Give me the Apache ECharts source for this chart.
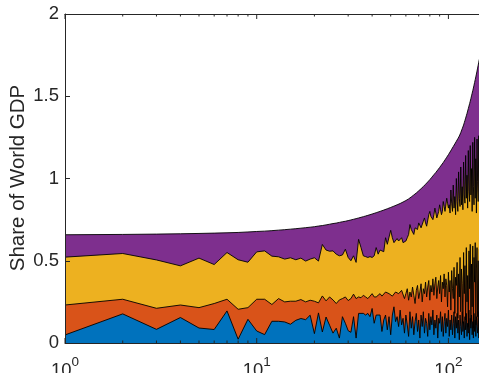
<!DOCTYPE html>
<html>
<head>
<meta charset="utf-8">
<script src="https://cdn.jsdelivr.net/npm/echarts@6/dist/echarts.min.js"></script>
<style>
  html, body { margin: 0; padding: 0; background: #fff; }
  #chart { width: 479px; height: 373px; }
</style>
</head>
<body>
<div id="chart"></div>
<script>
// x positions (rank), one per point
const rank = [
  1, 2, 3, 4, 5, 6, 7, 8, 9, 10,
  11, 12, 13, 14, 15, 16, 17, 18, 19, 20,
  21, 22, 23, 24, 25, 26, 27, 28, 29, 30,
  31, 32, 33, 34, 35, 36, 37, 38, 39, 40,
  41, 42, 43, 44, 45, 46, 47, 48, 49, 50,
  51, 52, 53, 54, 55, 56, 57, 58, 59, 60,
  61, 62, 63, 64, 65, 66, 67, 68, 69, 70,
  71, 72, 73, 74, 75, 76, 77, 78, 79, 80,
  81, 82, 83, 84, 85, 86, 87, 88, 89, 90,
  91, 92, 93, 94, 95, 96, 97, 98, 99, 100,
  101, 102, 103, 104, 105, 106, 107, 108, 109, 110,
  111, 112, 113, 114, 115, 116, 117, 118, 119, 120,
  121, 122, 123, 124, 125, 126, 127, 128, 129, 130,
  131, 132, 133, 134, 135, 136, 137, 138, 139, 140,
  141, 142, 143, 144, 145
];

// upper edge of each stacked band (cumulative share)
const blueTop = [
  0.049, 0.177, 0.083, 0.155, 0.091, 0.082, 0.195, 0.023, 0.144, 0.073,
  0.051, 0.132, 0.132, 0.128, 0.114, 0.138, 0.149, 0.142, 0.169, 0.057,
  0.183, 0.067, 0.158, 0.108, 0.060, 0.090, 0.030, 0.160, 0.120, 0.075,
  0.065, 0.160, 0.030, 0.180, 0.180, 0.180, 0.170, 0.180, 0.160, 0.210,
  0.120, 0.170, 0.180, 0.170, 0.070, 0.140, 0.170, 0.080, 0.160, 0.050,
  0.170, 0.220, 0.130, 0.160, 0.100, 0.200, 0.110, 0.150, 0.060, 0.170,
  0.11, 0.04, 0.19, 0.09, 0.16, 0.05, 0.13, 0.18, 0.07, 0.14,
  0.03, 0.17, 0.10, 0.19, 0.06, 0.15, 0.12, 0.04, 0.18, 0.08,
  0.16, 0.11, 0.20, 0.05, 0.14, 0.09, 0.17, 0.03, 0.15, 0.12,
  0.19, 0.07, 0.16, 0.04, 0.13, 0.18, 0.06, 0.15, 0.10, 0.20,
  0.04, 0.14, 0.08, 0.17, 0.05, 0.12, 0.19, 0.03, 0.16, 0.09,
  0.18, 0.06, 0.14, 0.02, 0.17, 0.10, 0.05, 0.19, 0.07, 0.13,
  0.03, 0.16, 0.08, 0.18, 0.04, 0.12, 0.06, 0.20, 0.02, 0.15,
  0.09, 0.17, 0.05, 0.13, 0.03, 0.18, 0.07, 0.14, 0.04, 0.16,
  0.10, 0.06, 0.19, 0.03, 0.12
];
const orangeTop = [
  0.231, 0.266, 0.211, 0.231, 0.215, 0.240, 0.266, 0.205, 0.215, 0.266,
  0.266, 0.234, 0.270, 0.250, 0.254, 0.254, 0.264, 0.250, 0.260, 0.254,
  0.244, 0.286, 0.256, 0.280, 0.262, 0.240, 0.262, 0.270, 0.280, 0.258,
  0.270, 0.297, 0.270, 0.280, 0.275, 0.290, 0.280, 0.270, 0.285, 0.300,
  0.280, 0.280, 0.290, 0.300, 0.285, 0.297, 0.310, 0.311, 0.300, 0.300,
  0.285, 0.290, 0.310, 0.311, 0.300, 0.301, 0.320, 0.31, 0.27, 0.30,
  0.33, 0.26, 0.31, 0.28, 0.34, 0.29, 0.24, 0.32, 0.35, 0.27,
  0.31, 0.36, 0.25, 0.33, 0.30, 0.37, 0.28, 0.34, 0.38, 0.26,
  0.35, 0.31, 0.39, 0.29, 0.36, 0.40, 0.27, 0.34, 0.38, 0.30,
  0.41, 0.25, 0.37, 0.33, 0.42, 0.28, 0.39, 0.35, 0.22, 0.43,
  0.31, 0.38, 0.20, 0.44, 0.33, 0.27, 0.46, 0.18, 0.40, 0.35,
  0.49, 0.15, 0.42, 0.28, 0.52, 0.19, 0.45, 0.36, 0.12, 0.55,
  0.30, 0.47, 0.14, 0.58, 0.25, 0.41, 0.10, 0.56, 0.33, 0.60,
  0.13, 0.48, 0.22, 0.59, 0.09, 0.52, 0.37, 0.61, 0.11, 0.45,
  0.58, 0.16, 0.50, 0.08, 0.57
];
const yellowTop = [
  0.522, 0.544, 0.505, 0.469, 0.516, 0.477, 0.550, 0.506, 0.491, 0.554,
  0.560, 0.528, 0.524, 0.510, 0.518, 0.506, 0.516, 0.498, 0.510, 0.518,
  0.498, 0.599, 0.565, 0.558, 0.560, 0.540, 0.530, 0.535, 0.570, 0.520,
  0.500, 0.530, 0.490, 0.630, 0.580, 0.530, 0.525, 0.520, 0.525, 0.520,
  0.530, 0.580, 0.540, 0.565, 0.570, 0.555, 0.640, 0.600, 0.595, 0.685,
  0.640, 0.610, 0.600, 0.635, 0.620, 0.625, 0.640, 0.61, 0.60, 0.62,
  0.64, 0.66, 0.72, 0.69, 0.68, 0.66, 0.70, 0.71, 0.69, 0.73,
  0.72, 0.70, 0.71, 0.74, 0.76, 0.73, 0.71, 0.72, 0.78, 0.80,
  0.77, 0.76, 0.75, 0.78, 0.82, 0.79, 0.76, 0.75, 0.80, 0.84,
  0.81, 0.78, 0.80, 0.86, 0.83, 0.80, 0.79, 0.88, 0.85, 0.82,
  0.84, 0.79, 0.93, 0.85, 0.80, 0.96, 0.82, 0.89, 0.78, 1.00,
  0.86, 0.80, 1.04, 0.88, 0.83, 1.07, 0.84, 0.95, 0.81, 1.10,
  0.90, 0.85, 1.14, 0.88, 1.02, 0.82, 1.17, 0.92, 0.86, 1.20,
  0.90, 1.06, 0.80, 1.22, 0.95, 0.84, 1.25, 0.88, 1.12, 0.79,
  1.24, 0.98, 0.86, 1.26, 0.92
];
const purpleTop = [
  0.658, 0.660, 0.662, 0.664, 0.666, 0.668, 0.670, 0.672, 0.675, 0.678,
  0.680, 0.683, 0.686, 0.689, 0.692, 0.695, 0.698, 0.701, 0.704, 0.707,
  0.711, 0.714, 0.718, 0.722, 0.726, 0.729, 0.733, 0.737, 0.740, 0.744,
  0.748, 0.752, 0.756, 0.760, 0.764, 0.768, 0.772, 0.776, 0.780, 0.784,
  0.788, 0.792, 0.796, 0.800, 0.804, 0.808, 0.812, 0.816, 0.820, 0.824,
  0.828, 0.832, 0.836, 0.840, 0.844, 0.848, 0.853, 0.857, 0.862, 0.866,
  0.871, 0.876, 0.882, 0.888, 0.894, 0.900, 0.906, 0.912, 0.918, 0.925,
  0.931, 0.938, 0.944, 0.951, 0.958, 0.965, 0.972, 0.979, 0.986, 0.993,
  1.000, 1.008, 1.015, 1.023, 1.030, 1.037, 1.045, 1.052, 1.060, 1.067,
  1.075, 1.082, 1.090, 1.097, 1.105, 1.113, 1.121, 1.129, 1.137, 1.145,
  1.153, 1.161, 1.169, 1.178, 1.186, 1.194, 1.202, 1.210, 1.218, 1.226,
  1.234, 1.242, 1.250, 1.258, 1.268, 1.279, 1.290, 1.302, 1.313, 1.325,
  1.339, 1.353, 1.367, 1.381, 1.395, 1.410, 1.425, 1.440, 1.455, 1.470,
  1.486, 1.502, 1.518, 1.534, 1.550, 1.567, 1.584, 1.601, 1.618, 1.635,
  1.653, 1.671, 1.689, 1.707, 1.725
];

// log axis tick marks
const majorTicks = [1, 10, 100];
const minorTicks = [2, 3, 4, 5, 6, 7, 8, 9, 20, 30, 40, 50, 60, 70, 80, 90];

const axisColor = '#262626';
const font = 'Liberation Sans, Arial, Helvetica, sans-serif';

function pairs(ys) {
  return rank.map(function (x, i) { return [x, ys[i]]; });
}

function band(name, ys, color) {
  return {
    name: name,
    type: 'line',
    data: pairs(ys),
    symbol: 'none',
    lineStyle: { color: '#000', width: 0.9 },
    areaStyle: { color: color, opacity: 1 },
    z: 2
  };
}

function tickSeries(vals, len) {
  return {
    type: 'custom',
    data: vals.map(function (v) { return [v, 0]; }),
    z: 20,
    silent: true,
    renderItem: function (params, api) {
      const b = api.coord([api.value(0), 0]);
      const t = api.coord([api.value(0), 2]);
      const st = { stroke: axisColor, lineWidth: 1 };
      return {
        type: 'group',
        children: [
          { type: 'line', shape: { x1: b[0], y1: b[1], x2: b[0], y2: b[1] - len }, style: st },
          { type: 'line', shape: { x1: t[0], y1: t[1], x2: t[0], y2: t[1] + len }, style: st }
        ]
      };
    }
  };
}

const chart = echarts.init(document.getElementById('chart'));
chart.setOption({
  animation: false,
  backgroundColor: '#fff',
  grid: { left: 65, right: 0, top: 14, bottom: 30, outerBoundsMode: 'none', containLabel: false },
  // y axis title, rotated
  graphic: [{
    type: 'text',
    x: 18,
    y: 178,
    rotation: Math.PI / 2,
    style: {
      text: 'Share of World GDP',
      fontFamily: font,
      fontSize: 20.5,
      fill: axisColor,
      align: 'center',
      verticalAlign: 'middle'
    }
  }],
  xAxis: [{
    type: 'log',
    min: 1,
    max: 144.4,
    position: 'bottom',
    z: 10,
    axisLine: { lineStyle: { color: axisColor, width: 1 } },
    axisTick: { show: false },
    splitLine: { show: false },
    axisLabel: {
      showMaxLabel: false,
      margin: 12,
      color: axisColor,
      formatter: function (v) {
        const p = Math.log10(v);
        if (Math.abs(p - Math.round(p)) > 1e-6) return '';
        return '{b|10}{s|' + Math.round(p) + '}';
      },
      rich: {
        b: { fontFamily: font, fontSize: 18.5, color: axisColor, lineHeight: 22, padding: [9, 0, 0, 0] },
        s: { fontFamily: font, fontSize: 13.5, color: axisColor, verticalAlign: 'top', lineHeight: 12 }
      }
    }
  }, {
    type: 'log',
    min: 1,
    max: 144.4,
    position: 'top',
    z: 10,
    axisLine: { lineStyle: { color: axisColor, width: 1 } },
    axisTick: { show: false },
    axisLabel: { show: false },
    splitLine: { show: false }
  }],
  yAxis: {
    type: 'value',
    min: 0,
    max: 2,
    interval: 0.5,
    z: 10,
    axisLine: { show: true, lineStyle: { color: axisColor, width: 1 } },
    axisTick: { show: true, inside: true, length: 5, lineStyle: { color: axisColor } },
    splitLine: { show: false },
    axisLabel: { fontFamily: font, fontSize: 18.5, color: axisColor, margin: 6 }
  },
  series: [
    band('Purple', purpleTop, '#7E2F8E'),
    band('Yellow', yellowTop, '#EDB120'),
    band('Orange', orangeTop, '#D95319'),
    band('Blue', blueTop, '#0072BD'),
    tickSeries(majorTicks, 5),
    tickSeries(minorTicks, 2.5)
  ]
});
</script>
</body>
</html>
